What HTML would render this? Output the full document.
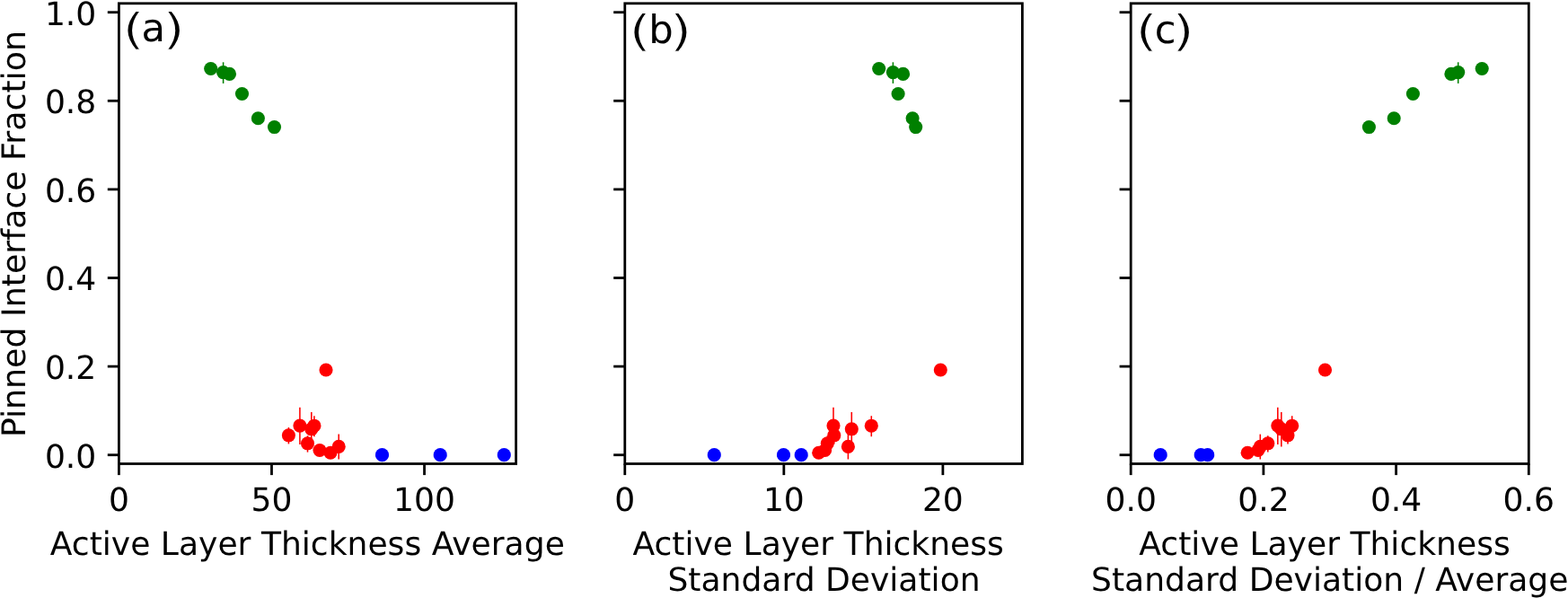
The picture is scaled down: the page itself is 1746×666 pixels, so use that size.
<!DOCTYPE html>
<html lang="en">
<head>
<meta charset="utf-8">
<title>Pinned Interface Fraction</title>
<style>
html,body{margin:0;padding:0;background:#fff}
body{width:1746px;height:666px;overflow:hidden}
svg{display:block}
text{text-rendering:geometricPrecision;font-family:"DejaVu Sans","Liberation Sans",sans-serif;fill:#000}
</style>
</head>
<body>
<svg width="1746" height="666" viewBox="0 0 1746 666" font-size="36.1">
<rect x="0" y="0" width="1746" height="666" fill="#ffffff"/>
<g>
<circle cx="425.50" cy="506.65" r="7.55" fill="#0000ff"/>
<circle cx="490.20" cy="506.65" r="7.55" fill="#0000ff"/>
<circle cx="561.30" cy="506.65" r="7.55" fill="#0000ff"/>
<line x1="321.40" y1="476.00" x2="321.40" y2="494.40" stroke="#ff0000" stroke-width="1.55"/>
<line x1="333.90" y1="453.70" x2="333.90" y2="495.00" stroke="#ff0000" stroke-width="1.55"/>
<line x1="342.50" y1="485.30" x2="342.50" y2="503.60" stroke="#ff0000" stroke-width="1.55"/>
<line x1="346.80" y1="459.00" x2="346.80" y2="497.40" stroke="#ff0000" stroke-width="1.55"/>
<line x1="349.90" y1="463.20" x2="349.90" y2="486.20" stroke="#ff0000" stroke-width="1.55"/>
<line x1="377.20" y1="483.60" x2="377.20" y2="511.50" stroke="#ff0000" stroke-width="1.55"/>
<circle cx="321.40" cy="484.80" r="7.55" fill="#ff0000"/>
<circle cx="333.90" cy="474.10" r="7.55" fill="#ff0000"/>
<circle cx="342.50" cy="493.80" r="7.55" fill="#ff0000"/>
<circle cx="346.80" cy="477.80" r="7.55" fill="#ff0000"/>
<circle cx="349.90" cy="474.20" r="7.55" fill="#ff0000"/>
<circle cx="356.00" cy="501.50" r="7.55" fill="#ff0000"/>
<circle cx="368.00" cy="504.25" r="7.55" fill="#ff0000"/>
<circle cx="377.20" cy="497.40" r="7.55" fill="#ff0000"/>
<circle cx="363.00" cy="412.00" r="7.55" fill="#ff0000"/>
<line x1="248.60" y1="69.30" x2="248.60" y2="92.90" stroke="#008000" stroke-width="1.55"/>
<circle cx="234.70" cy="76.50" r="7.55" fill="#008000"/>
<circle cx="248.60" cy="80.60" r="7.55" fill="#008000"/>
<circle cx="255.50" cy="82.40" r="7.55" fill="#008000"/>
<circle cx="269.50" cy="104.50" r="7.55" fill="#008000"/>
<circle cx="287.40" cy="131.75" r="7.55" fill="#008000"/>
<circle cx="305.50" cy="141.55" r="7.55" fill="#008000"/>
<line x1="132.40" y1="516.5" x2="132.40" y2="529.1" stroke="#000" stroke-width="2.8"/>
<text x="132.40" y="569.3" text-anchor="middle">0</text>
<line x1="302.48" y1="516.5" x2="302.48" y2="529.1" stroke="#000" stroke-width="2.8"/>
<text x="302.48" y="569.3" text-anchor="middle">50</text>
<line x1="472.55" y1="516.5" x2="472.55" y2="529.1" stroke="#000" stroke-width="2.8"/>
<text x="472.55" y="569.3" text-anchor="middle">100</text>
<line x1="119.80" y1="506.70" x2="132.4" y2="506.70" stroke="#000" stroke-width="2.8"/>
<text x="107.3" y="520.50" text-anchor="end">0.0</text>
<line x1="119.80" y1="408.10" x2="132.4" y2="408.10" stroke="#000" stroke-width="2.8"/>
<text x="107.3" y="421.90" text-anchor="end">0.2</text>
<line x1="119.80" y1="309.50" x2="132.4" y2="309.50" stroke="#000" stroke-width="2.8"/>
<text x="107.3" y="323.30" text-anchor="end">0.4</text>
<line x1="119.80" y1="210.90" x2="132.4" y2="210.90" stroke="#000" stroke-width="2.8"/>
<text x="107.3" y="224.70" text-anchor="end">0.6</text>
<line x1="119.80" y1="112.30" x2="132.4" y2="112.30" stroke="#000" stroke-width="2.8"/>
<text x="107.3" y="126.10" text-anchor="end">0.8</text>
<line x1="119.80" y1="13.70" x2="132.4" y2="13.70" stroke="#000" stroke-width="2.8"/>
<text x="107.3" y="27.50" text-anchor="end">1.0</text>
<rect x="132.4" y="3.8" width="442.2" height="512.7" fill="none" stroke="#000" stroke-width="2.8"/>
<text font-size="43.3"><tspan x="136.23" y="48.81" font-size="48.2" textLength="24.82" lengthAdjust="spacingAndGlyphs" stroke="#fff" stroke-width="1.0">(</tspan><tspan x="157.60" y="46">a</tspan><tspan x="181.31" y="48.81" font-size="48.2" textLength="24.82" lengthAdjust="spacingAndGlyphs" stroke="#fff" stroke-width="1.0">)</tspan></text>
<text text-anchor="middle"><tspan x="342.30" y="618.0">Active Layer Thickness Average</tspan></text>
</g>
<g>
<circle cx="795.30" cy="506.65" r="7.55" fill="#0000ff"/>
<circle cx="872.50" cy="506.65" r="7.55" fill="#0000ff"/>
<circle cx="892.20" cy="506.65" r="7.55" fill="#0000ff"/>
<line x1="928.80" y1="476.00" x2="928.80" y2="494.40" stroke="#ff0000" stroke-width="1.55"/>
<line x1="928.00" y1="453.70" x2="928.00" y2="495.00" stroke="#ff0000" stroke-width="1.55"/>
<line x1="921.30" y1="485.30" x2="921.30" y2="503.60" stroke="#ff0000" stroke-width="1.55"/>
<line x1="948.30" y1="459.00" x2="948.30" y2="497.40" stroke="#ff0000" stroke-width="1.55"/>
<line x1="970.30" y1="463.20" x2="970.30" y2="486.20" stroke="#ff0000" stroke-width="1.55"/>
<line x1="944.40" y1="483.60" x2="944.40" y2="511.50" stroke="#ff0000" stroke-width="1.55"/>
<circle cx="928.80" cy="484.80" r="7.55" fill="#ff0000"/>
<circle cx="928.00" cy="474.10" r="7.55" fill="#ff0000"/>
<circle cx="921.30" cy="493.80" r="7.55" fill="#ff0000"/>
<circle cx="948.30" cy="477.80" r="7.55" fill="#ff0000"/>
<circle cx="970.30" cy="474.20" r="7.55" fill="#ff0000"/>
<circle cx="918.60" cy="501.50" r="7.55" fill="#ff0000"/>
<circle cx="911.70" cy="504.25" r="7.55" fill="#ff0000"/>
<circle cx="944.40" cy="497.40" r="7.55" fill="#ff0000"/>
<circle cx="1047.30" cy="412.00" r="7.55" fill="#ff0000"/>
<line x1="994.40" y1="69.30" x2="994.40" y2="92.90" stroke="#008000" stroke-width="1.55"/>
<circle cx="978.70" cy="76.50" r="7.55" fill="#008000"/>
<circle cx="994.40" cy="80.60" r="7.55" fill="#008000"/>
<circle cx="1005.60" cy="82.40" r="7.55" fill="#008000"/>
<circle cx="1000.10" cy="104.50" r="7.55" fill="#008000"/>
<circle cx="1016.10" cy="131.75" r="7.55" fill="#008000"/>
<circle cx="1019.70" cy="141.55" r="7.55" fill="#008000"/>
<line x1="695.80" y1="516.5" x2="695.80" y2="529.1" stroke="#000" stroke-width="2.8"/>
<text x="695.80" y="569.3" text-anchor="middle">0</text>
<line x1="872.84" y1="516.5" x2="872.84" y2="529.1" stroke="#000" stroke-width="2.8"/>
<text x="872.84" y="569.3" text-anchor="middle">10</text>
<line x1="1049.88" y1="516.5" x2="1049.88" y2="529.1" stroke="#000" stroke-width="2.8"/>
<text x="1049.88" y="569.3" text-anchor="middle">20</text>
<line x1="683.20" y1="506.70" x2="695.8" y2="506.70" stroke="#000" stroke-width="2.8"/>
<line x1="683.20" y1="408.10" x2="695.8" y2="408.10" stroke="#000" stroke-width="2.8"/>
<line x1="683.20" y1="309.50" x2="695.8" y2="309.50" stroke="#000" stroke-width="2.8"/>
<line x1="683.20" y1="210.90" x2="695.8" y2="210.90" stroke="#000" stroke-width="2.8"/>
<line x1="683.20" y1="112.30" x2="695.8" y2="112.30" stroke="#000" stroke-width="2.8"/>
<line x1="683.20" y1="13.70" x2="695.8" y2="13.70" stroke="#000" stroke-width="2.8"/>
<rect x="695.8" y="3.8" width="442.6" height="512.7" fill="none" stroke="#000" stroke-width="2.8"/>
<text font-size="43.3"><tspan x="700.23" y="50.91" font-size="48.2" textLength="24.82" lengthAdjust="spacingAndGlyphs" stroke="#fff" stroke-width="1.0">(</tspan><tspan x="722.27" y="48">b</tspan><tspan x="745.81" y="50.91" font-size="48.2" textLength="24.82" lengthAdjust="spacingAndGlyphs" stroke="#fff" stroke-width="1.0">)</tspan></text>
<text text-anchor="middle"><tspan x="911.20" y="618.0">Active Layer Thickness</tspan><tspan x="917.50" y="658.2">Standard Deviation</tspan></text>
</g>
<g>
<circle cx="1292.20" cy="506.65" r="7.55" fill="#0000ff"/>
<circle cx="1337.20" cy="506.65" r="7.55" fill="#0000ff"/>
<circle cx="1344.70" cy="506.65" r="7.55" fill="#0000ff"/>
<line x1="1434.00" y1="476.00" x2="1434.00" y2="494.40" stroke="#ff0000" stroke-width="1.55"/>
<line x1="1422.80" y1="453.70" x2="1422.80" y2="495.00" stroke="#ff0000" stroke-width="1.55"/>
<line x1="1411.80" y1="485.30" x2="1411.80" y2="503.60" stroke="#ff0000" stroke-width="1.55"/>
<line x1="1426.80" y1="459.00" x2="1426.80" y2="497.40" stroke="#ff0000" stroke-width="1.55"/>
<line x1="1438.70" y1="463.20" x2="1438.70" y2="486.20" stroke="#ff0000" stroke-width="1.55"/>
<line x1="1403.30" y1="483.60" x2="1403.30" y2="511.50" stroke="#ff0000" stroke-width="1.55"/>
<circle cx="1434.00" cy="484.80" r="7.55" fill="#ff0000"/>
<circle cx="1422.80" cy="474.10" r="7.55" fill="#ff0000"/>
<circle cx="1411.80" cy="493.80" r="7.55" fill="#ff0000"/>
<circle cx="1426.80" cy="477.80" r="7.55" fill="#ff0000"/>
<circle cx="1438.70" cy="474.20" r="7.55" fill="#ff0000"/>
<circle cx="1400.90" cy="501.50" r="7.55" fill="#ff0000"/>
<circle cx="1389.15" cy="504.25" r="7.55" fill="#ff0000"/>
<circle cx="1403.30" cy="497.40" r="7.55" fill="#ff0000"/>
<circle cx="1475.50" cy="412.00" r="7.55" fill="#ff0000"/>
<line x1="1623.70" y1="69.30" x2="1623.70" y2="92.90" stroke="#008000" stroke-width="1.55"/>
<circle cx="1650.20" cy="76.50" r="7.55" fill="#008000"/>
<circle cx="1623.70" cy="80.60" r="7.55" fill="#008000"/>
<circle cx="1615.90" cy="82.40" r="7.55" fill="#008000"/>
<circle cx="1573.40" cy="104.50" r="7.55" fill="#008000"/>
<circle cx="1552.20" cy="131.75" r="7.55" fill="#008000"/>
<circle cx="1524.40" cy="141.55" r="7.55" fill="#008000"/>
<line x1="1259.20" y1="516.5" x2="1259.20" y2="529.1" stroke="#000" stroke-width="2.8"/>
<text x="1259.20" y="569.3" text-anchor="middle">0.0</text>
<line x1="1406.90" y1="516.5" x2="1406.90" y2="529.1" stroke="#000" stroke-width="2.8"/>
<text x="1406.90" y="569.3" text-anchor="middle">0.2</text>
<line x1="1554.60" y1="516.5" x2="1554.60" y2="529.1" stroke="#000" stroke-width="2.8"/>
<text x="1554.60" y="569.3" text-anchor="middle">0.4</text>
<line x1="1702.30" y1="516.5" x2="1702.30" y2="529.1" stroke="#000" stroke-width="2.8"/>
<text x="1702.30" y="569.3" text-anchor="middle">0.6</text>
<line x1="1246.60" y1="506.70" x2="1259.2" y2="506.70" stroke="#000" stroke-width="2.8"/>
<line x1="1246.60" y1="408.10" x2="1259.2" y2="408.10" stroke="#000" stroke-width="2.8"/>
<line x1="1246.60" y1="309.50" x2="1259.2" y2="309.50" stroke="#000" stroke-width="2.8"/>
<line x1="1246.60" y1="210.90" x2="1259.2" y2="210.90" stroke="#000" stroke-width="2.8"/>
<line x1="1246.60" y1="112.30" x2="1259.2" y2="112.30" stroke="#000" stroke-width="2.8"/>
<line x1="1246.60" y1="13.70" x2="1259.2" y2="13.70" stroke="#000" stroke-width="2.8"/>
<rect x="1259.2" y="3.8" width="443.1" height="512.7" fill="none" stroke="#000" stroke-width="2.8"/>
<text font-size="43.3"><tspan x="1264.23" y="50.91" font-size="48.2" textLength="24.82" lengthAdjust="spacingAndGlyphs" stroke="#fff" stroke-width="1.0">(</tspan><tspan x="1285.71" y="48">c</tspan><tspan x="1305.31" y="50.91" font-size="48.2" textLength="24.82" lengthAdjust="spacingAndGlyphs" stroke="#fff" stroke-width="1.0">)</tspan></text>
<text text-anchor="middle"><tspan x="1475.05" y="618.0">Active Layer Thickness</tspan><tspan x="1480.75" y="658.2">Standard Deviation / Average</tspan></text>
</g>
<text transform="translate(27.75,260.6) rotate(-90)" font-size="36.3" text-anchor="middle">Pinned Interface Fraction</text>
</svg>
</body>
</html>
